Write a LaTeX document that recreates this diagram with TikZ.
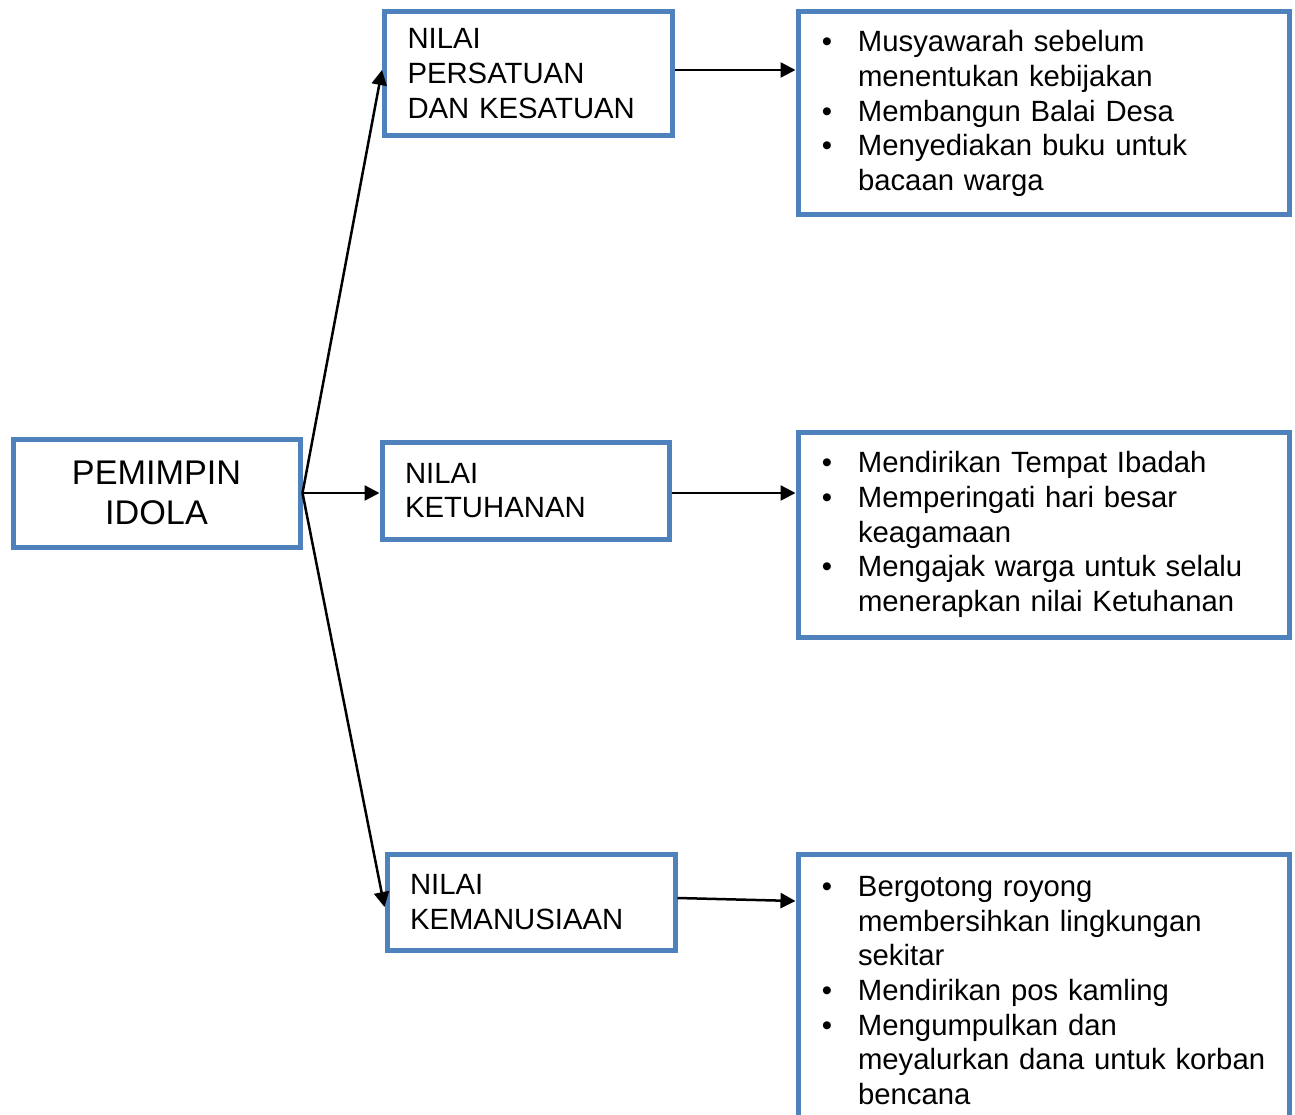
\documentclass[tikz,border=0pt]{standalone}
\usepackage{fontspec}
\setmainfont{Liberation Sans}
\usetikzlibrary{arrows.meta}
\definecolor{boxblue}{HTML}{4F81BD}
\newcommand{\blitem}[1]{\hspace*{19pt}\makebox[0pt]{•}\hspace*{31pt}#1}
\newcommand{\blcont}[1]{\hspace*{50pt}#1}
\begin{document}
\begin{tikzpicture}[x=1pt,y=-1pt,
  box/.style={draw=boxblue, line width=5pt, rectangle, inner ysep=0pt, align=left,
    font=\fontsize{29.3}{34.7}\selectfont},
  valbox/.style={box, inner xsep=23pt},
  listbox/.style={box, inner xsep=10pt, text width=471pt},
  conn/.style={line width=2.5pt, -{Triangle[length=15pt,width=15pt]}}]
\useasboundingbox (0,0) rectangle (1295,1115);
\clip (0,0) rectangle (1295,1115);
% main node
\node[box, align=center, inner xsep=0pt, text width=287pt, minimum height=108pt,
  font=\fontsize{34.2}{40}\selectfont] (pem) at (156.5,493) {PEMIMPIN\\IDOLA};
% value nodes
\node[valbox, text width=242pt, minimum height=124pt] (per) at (528.5,73.5)
  {NILAI\\PERSATUAN\\DAN KESATUAN};
\node[valbox, text width=241pt, minimum height=97pt] (ket) at (525.5,490.5)
  {NILAI\\KETUHANAN};
\node[valbox, text width=242pt, minimum height=96pt] (kem) at (531,902)
  {NILAI\\KEMANUSIAAN};
% list nodes
\node[listbox, minimum height=203pt] (r1) at (1043.5,113.5)
  {\blitem{Musyawarah sebelum}\\\blcont{menentukan kebijakan}\\\blitem{Membangun Balai Desa}\\\blitem{Menyediakan buku untuk}\\\blcont{bacaan warga}};
\node[listbox, minimum height=205pt] (r2) at (1043.5,534.5)
  {\blitem{Mendirikan Tempat Ibadah}\\\blitem{Memperingati hari besar}\\\blcont{keagamaan}\\\blitem{Mengajak warga untuk selalu}\\\blcont{menerapkan nilai Ketuhanan}};
\node[listbox, minimum height=273pt] (r3) at (1043.5,990.5)
  {\blitem{Bergotong royong}\\\blcont{membersihkan lingkungan}\\\blcont{sekitar}\\\blitem{Mendirikan pos kamling}\\\blitem{Mengumpulkan dan}\\\blcont{meyalurkan dana untuk korban}\\\blcont{bencana}};
% connectors
\draw[conn] (pem.east) -- ([yshift=3.5pt]per.west);
\draw[conn] (pem.east) -- (pem.east -| ket.west);
\draw[conn] (pem.east) -- ([yshift=-5pt]kem.west);
\draw[conn] ([yshift=3.5pt]per.east) -- ([yshift=3.5pt]per.east -| r1.west);
\draw[conn] ([yshift=-2.5pt]ket.east) -- ([yshift=-2.5pt]ket.east -| r2.west);
\draw[conn] ([yshift=4pt]kem.east) -- ([yshift=1pt]kem.east -| r3.west);
\end{tikzpicture}
\end{document}
